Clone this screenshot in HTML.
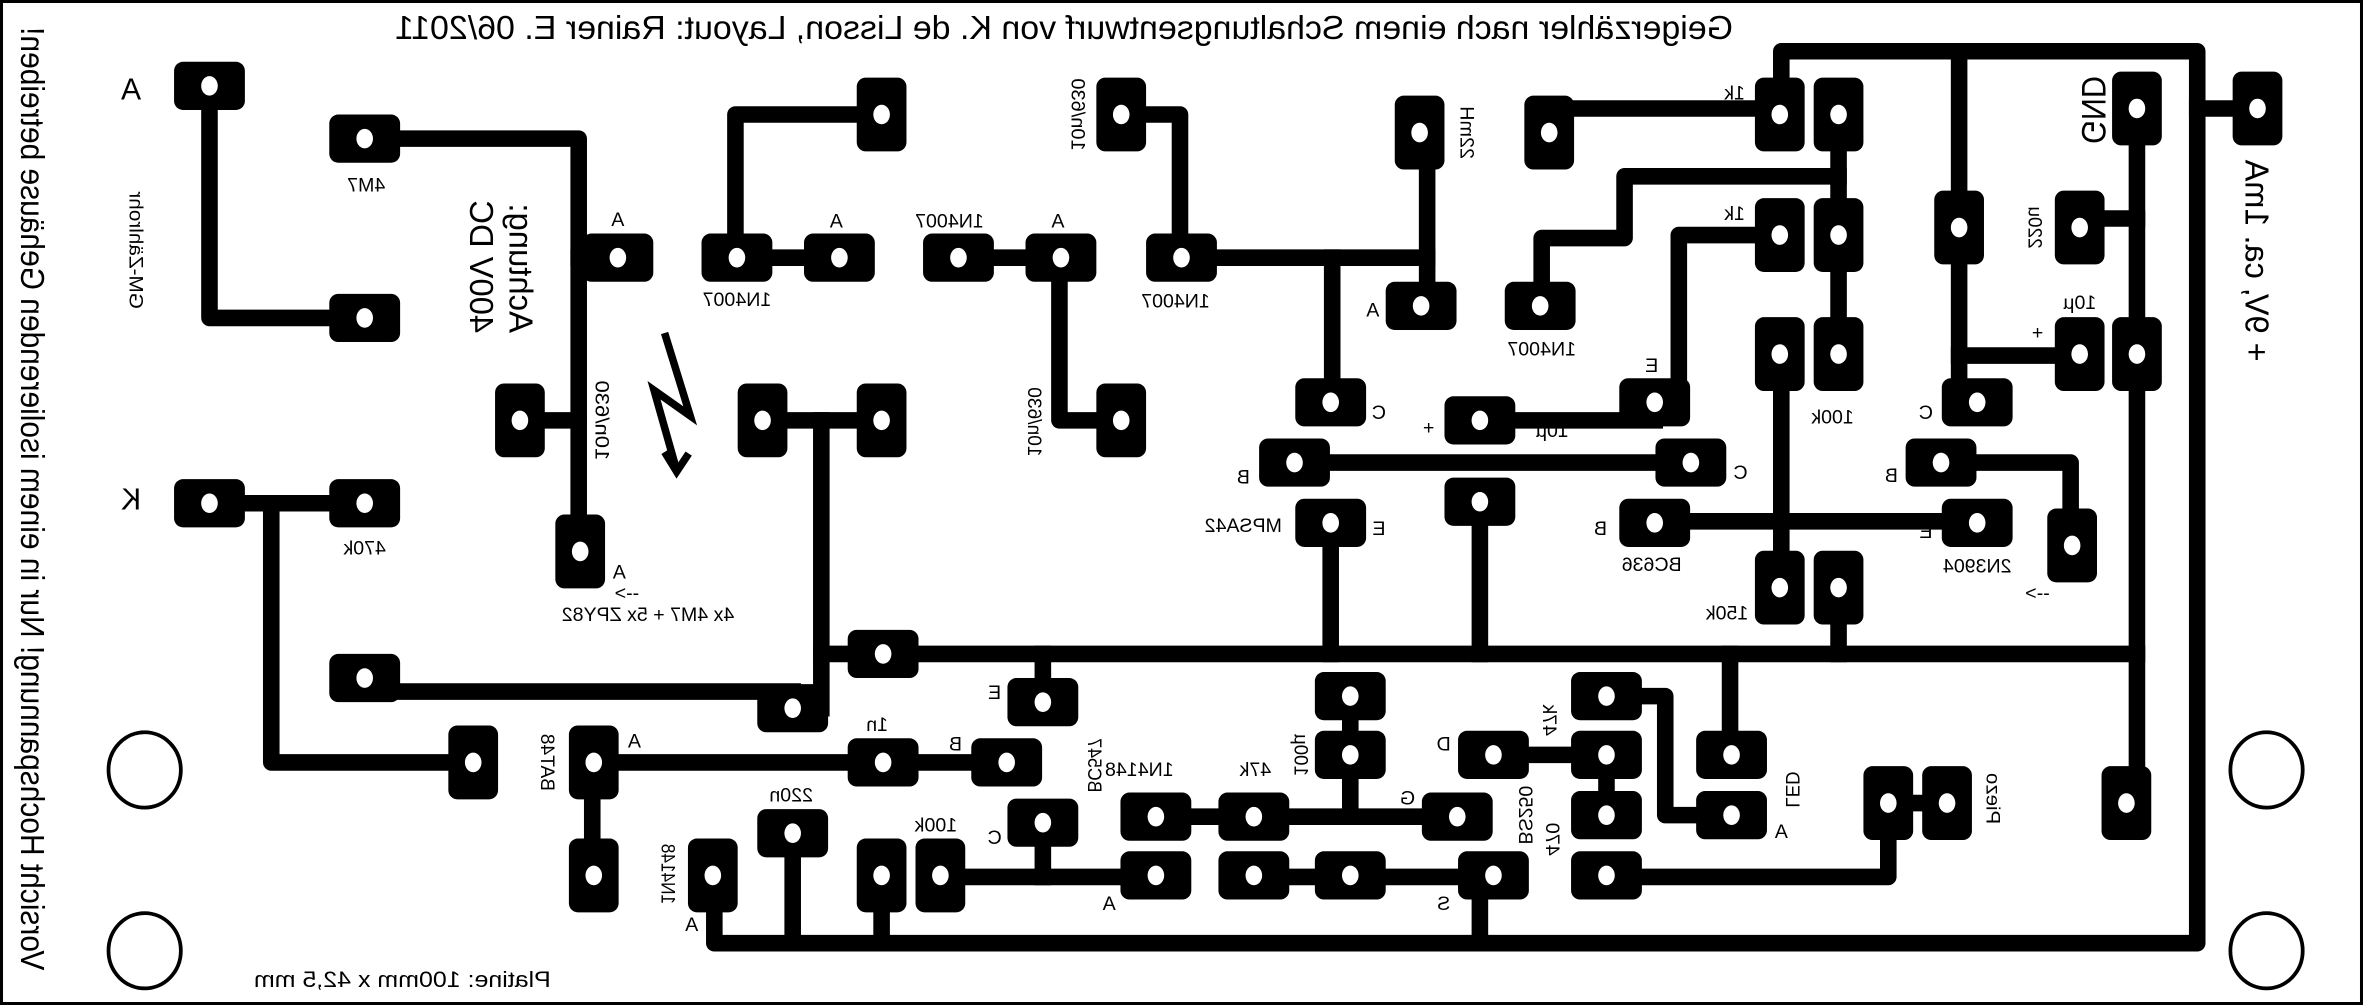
<!DOCTYPE html>
<html><head><meta charset="utf-8"><style>
html,body{margin:0;padding:0;background:#fff;}
svg{display:block;}
text{font-family:"Liberation Sans",sans-serif;fill:#000;text-anchor:middle;}
.s{font-size:13px;}
.r{dominant-baseline:central;}
</style></head><body>
<svg width="2363" height="1005" viewBox="0 0 1568 667" preserveAspectRatio="none" xmlns="http://www.w3.org/2000/svg">
<defs>
<g id="h"><rect x="-23.5" y="-16" width="47" height="32" rx="6" fill="#000"/><ellipse rx="5.5" ry="6.5" fill="#fff"/></g>
<g id="v"><rect x="-16.5" y="-24.5" width="33" height="49" rx="6" fill="#000"/><ellipse rx="5.5" ry="6.5" fill="#fff"/></g>
</defs>
<rect x="1" y="1" width="1566" height="665" fill="#fff" stroke="#000" stroke-width="2"/>

<g fill="none" stroke="#000" stroke-width="11" stroke-linejoin="round" stroke-linecap="square">
<polyline points="139,57 139,211 242,211"/>
<polyline points="242,92 384,92 384,366"/>
<polyline points="384,171 410,171"/>
<polyline points="345,279 384,279"/>
<polyline points="139,334 242,334"/>
<polyline points="180,334 180,506 314,506"/>
<polyline points="488,171 488,76 585,76"/>
<polyline points="489,171 557,171"/>
<polyline points="636,171 704,171"/>
<polyline points="703,171 703,279 744,279"/>
<polyline points="744,76 783,76 783,171 947,171"/>
<polyline points="947,88 947,203"/>
<polyline points="884,171 884,267"/>
<polyline points="859,307 1122,307"/>
<polyline points="982,279 1098,279"/>
<polyline points="1098,267 1114,267 1114,156 1181,156"/>
<polyline points="1028,72 1181,72"/>
<polyline points="1023,203 1023,158 1078,158 1078,117 1220,117"/>
<polyline points="1220,76 1220,235"/>
<polyline points="1182,76 1182,34 1458,34 1458,626 474,626 474,581"/>
<polyline points="1458,72 1498,72"/>
<polyline points="1300,34 1300,267"/>
<polyline points="1300,236 1380,236"/>
<polyline points="1418,72 1418,533"/>
<polyline points="1380,145 1418,145"/>
<polyline points="1182,235 1182,390"/>
<polyline points="1098,346 1312,346"/>
<polyline points="1288,307 1374,307 1374,362"/>
<polyline points="1220,390 1220,434"/>
<polyline points="545,434 1418,434"/>
<polyline points="545,279 545,470"/>
<polyline points="506,279 585,279"/>
<polyline points="883,347 883,434"/>
<polyline points="982,333 982,434"/>
<polyline points="692,434 692,466"/>
<polyline points="1148,434 1148,501"/>
<polyline points="242,459 526,459"/>
<polyline points="394,506 668,506"/>
<polyline points="393,506 393,581"/>
<polyline points="526,553 526,626"/>
<polyline points="585,581 585,626"/>
<polyline points="982,581 982,626"/>
<polyline points="624,582 767,582"/>
<polyline points="692,546 692,582"/>
<polyline points="767,542 967,542"/>
<polyline points="896,462 896,542"/>
<polyline points="832,582 991,582"/>
<polyline points="991,501 1066,501 1066,541"/>
<polyline points="1066,462 1105,462 1105,541 1149,541"/>
<polyline points="1066,582 1253,582 1253,533 1292,533"/>
</g>

<use href="#h" x="139" y="57"/><use href="#h" x="242" y="92"/><use href="#h" x="242" y="211"/>
<use href="#h" x="410" y="171"/><use href="#h" x="139" y="334"/><use href="#h" x="242" y="334"/>
<use href="#h" x="489" y="171"/><use href="#h" x="557" y="171"/><use href="#h" x="636" y="171"/>
<use href="#h" x="704" y="171"/><use href="#h" x="784" y="171"/><use href="#h" x="943" y="203"/>
<use href="#h" x="883" y="267"/><use href="#h" x="859" y="307"/><use href="#h" x="883" y="347"/>
<use href="#h" x="1022" y="203"/><use href="#h" x="1098" y="267"/><use href="#h" x="1122" y="307"/>
<use href="#h" x="1288" y="307"/><use href="#h" x="1312" y="267"/><use href="#h" x="1098" y="347"/>
<use href="#h" x="1312" y="347"/><use href="#h" x="242" y="450"/><use href="#h" x="526" y="470"/>
<use href="#h" x="586" y="434"/><use href="#h" x="692" y="466"/><use href="#h" x="586" y="506"/>
<use href="#h" x="668" y="506"/><use href="#h" x="692" y="546"/><use href="#h" x="767" y="542"/>
<use href="#h" x="832" y="542"/><use href="#h" x="967" y="542"/><use href="#h" x="767" y="581"/>
<use href="#h" x="832" y="581"/><use href="#h" x="896" y="581"/><use href="#h" x="991" y="581"/>
<use href="#h" x="896" y="462"/><use href="#h" x="896" y="501"/><use href="#h" x="991" y="501"/>
<use href="#h" x="1066" y="462"/><use href="#h" x="1066" y="501"/><use href="#h" x="1066" y="541"/>
<use href="#h" x="1066" y="581"/><use href="#h" x="1149" y="501"/><use href="#h" x="1149" y="541"/>
<use href="#h" x="982" y="279"/><use href="#h" x="982" y="333"/><use href="#h" x="526" y="553"/>
<use href="#v" x="345" y="279"/><use href="#v" x="385" y="366"/><use href="#v" x="585" y="76"/>
<use href="#v" x="744" y="76"/><use href="#v" x="744" y="279"/><use href="#v" x="506" y="279"/>
<use href="#v" x="585" y="279"/><use href="#v" x="942" y="88"/><use href="#v" x="1028" y="88"/>
<use href="#v" x="1181" y="76"/><use href="#v" x="1220" y="76"/><use href="#v" x="1181" y="156"/>
<use href="#v" x="1220" y="156"/><use href="#v" x="1181" y="235"/><use href="#v" x="1220" y="235"/>
<use href="#v" x="1300" y="151"/><use href="#v" x="1380" y="151"/><use href="#v" x="1380" y="235"/>
<use href="#v" x="1418" y="72"/><use href="#v" x="1418" y="235"/><use href="#v" x="1498" y="72"/>
<use href="#v" x="1181" y="390"/><use href="#v" x="1220" y="390"/><use href="#v" x="1375" y="362"/>
<use href="#v" x="314" y="506"/><use href="#v" x="394" y="506"/><use href="#v" x="394" y="581"/>
<use href="#v" x="473" y="581"/><use href="#v" x="585" y="581"/><use href="#v" x="624" y="581"/>
<use href="#v" x="1253" y="533"/><use href="#v" x="1292" y="533"/><use href="#v" x="1411" y="533"/>

<g fill="none" stroke="#000" stroke-width="2.5">
<ellipse cx="96" cy="511" rx="24" ry="25"/><ellipse cx="96" cy="631" rx="24" ry="25"/>
<ellipse cx="1504" cy="511" rx="24" ry="25"/><ellipse cx="1504" cy="631" rx="24" ry="25"/>
</g>

<g fill="none" stroke="#000" stroke-width="5" stroke-linejoin="miter">
<polyline points="441,221 458,276 434,259 449,312"/>
<polyline points="441,300 449,313 457,301"/>
</g>

<text transform="translate(706,26) scale(-1,1)" style="font-size:22px" textLength="888" lengthAdjust="spacingAndGlyphs">Geigerzähler nach einem Schaltungsentwurf von K. de Lisson, Layout: Rainer E.  06/2011</text>
<text class="r" transform="translate(21,331) scale(-1,1) rotate(-90)" style="font-size:22px" textLength="626" lengthAdjust="spacingAndGlyphs">Vorsicht Hochspannung! Nur in einem isolierenden Gehäuse betreiben!</text>
<text class="r" transform="translate(1497,173) scale(-1,1) rotate(-90)" style="font-size:22px" textLength="134" lengthAdjust="spacingAndGlyphs">+ 9V, ca. 1mA</text>
<text class="r" transform="translate(1389,73) scale(-1,1) rotate(-90)" style="font-size:23px" textLength="45" lengthAdjust="spacingAndGlyphs">GND</text>
<text class="r" transform="translate(345,178) scale(-1,1) rotate(-90)" style="font-size:22px" textLength="86" lengthAdjust="spacingAndGlyphs">Achtung:</text>
<text class="r" transform="translate(319,177) scale(-1,1) rotate(-90)" style="font-size:22px" textLength="88" lengthAdjust="spacingAndGlyphs">400V DC</text>
<text transform="translate(87,66) scale(-1,1)" style="font-size:20px">A</text>
<text transform="translate(87,338) scale(-1,1)" style="font-size:20px">K</text>
<text transform="translate(267,655) scale(-1,1)" style="font-size:15px" textLength="197" lengthAdjust="spacingAndGlyphs">Platine: 100mm x 42,5 mm</text>

<g class="s">
<text class="r" transform="translate(90,166) scale(-1,1) rotate(-90)" textLength="78" lengthAdjust="spacingAndGlyphs">GM-Zählrohr</text>
<text class="r" transform="translate(399,279) scale(-1,1) rotate(-90)" textLength="53" lengthAdjust="spacingAndGlyphs">10n/630</text>
<text class="r" transform="translate(715,76) scale(-1,1) rotate(-90)" textLength="48" lengthAdjust="spacingAndGlyphs">10n/630</text>
<text class="r" transform="translate(686,280) scale(-1,1) rotate(-90)" textLength="46" lengthAdjust="spacingAndGlyphs">10n/630</text>
<text class="r" transform="translate(973,88) scale(-1,1) rotate(-90)" textLength="35" lengthAdjust="spacingAndGlyphs">22mH</text>
<text class="r" transform="translate(1350,151) scale(-1,1) rotate(-90)" textLength="28" lengthAdjust="spacingAndGlyphs">220u</text>
<text class="r" transform="translate(363,506) scale(-1,1) rotate(-90)" textLength="38" lengthAdjust="spacingAndGlyphs">BAT48</text>
<text class="r" transform="translate(443,580) scale(-1,1) rotate(-90)" textLength="40" lengthAdjust="spacingAndGlyphs">1N4148</text>
<text class="r" transform="translate(726,508) scale(-1,1) rotate(-90)" textLength="36" lengthAdjust="spacingAndGlyphs">BC547</text>
<text class="r" transform="translate(863,501) scale(-1,1) rotate(-90)" textLength="28" lengthAdjust="spacingAndGlyphs">100µ</text>
<text class="r" transform="translate(1012,541) scale(-1,1) rotate(-90)" textLength="39" lengthAdjust="spacingAndGlyphs">BS250</text>
<text class="r" transform="translate(1030,557) scale(-1,1) rotate(-90)" textLength="22" lengthAdjust="spacingAndGlyphs">470</text>
<text class="r" transform="translate(1028,478) scale(-1,1) rotate(-90)" textLength="21" lengthAdjust="spacingAndGlyphs">47k</text>
<text class="r" transform="translate(1189,524) scale(-1,1) rotate(-90)" textLength="24" lengthAdjust="spacingAndGlyphs">LED</text>
<text class="r" transform="translate(1322,530) scale(-1,1) rotate(-90)" textLength="34" lengthAdjust="spacingAndGlyphs">Piezo</text>

<text transform="translate(243,127) scale(-1,1)">4M7</text>
<text transform="translate(410,150) scale(-1,1)">A</text>
<text transform="translate(555,151) scale(-1,1)">A</text>
<text transform="translate(702,151) scale(-1,1)">A</text>
<text transform="translate(630,151) scale(-1,1)">1N4007</text>
<text transform="translate(489,203) scale(-1,1)">1N4007</text>
<text transform="translate(780,204) scale(-1,1)">1N4007</text>
<text transform="translate(1023,236) scale(-1,1)">1N4007</text>
<text transform="translate(911,210) scale(-1,1)">A</text>
<text transform="translate(915,278) scale(-1,1)">C</text>
<text transform="translate(825,321) scale(-1,1)">B</text>
<text transform="translate(948,288) scale(-1,1)">+</text>
<text transform="translate(1030,290) scale(-1,1)">10µ</text>
<text transform="translate(915,355) scale(-1,1)">E</text>
<text transform="translate(825,353) scale(-1,1)">MPSA42</text>
<text transform="translate(1151,66) scale(-1,1)">1k</text>
<text transform="translate(1151,146) scale(-1,1)">1k</text>
<text transform="translate(1096,247) scale(-1,1)">E</text>
<text transform="translate(1155,318) scale(-1,1)">C</text>
<text transform="translate(1216,281) scale(-1,1)">100k</text>
<text transform="translate(1278,278) scale(-1,1)">C</text>
<text transform="translate(1255,320) scale(-1,1)">B</text>
<text transform="translate(1352,225) scale(-1,1)">+</text>
<text transform="translate(1380,205) scale(-1,1)">10µ</text>
<text transform="translate(1062,355) scale(-1,1)">B</text>
<text transform="translate(1096,379) scale(-1,1)">BC636</text>
<text transform="translate(1278,357) scale(-1,1)">E</text>
<text transform="translate(1312,380) scale(-1,1)">2N3904</text>
<text transform="translate(1146,411) scale(-1,1)">150k</text>
<text transform="translate(1352,398) scale(-1,1)">--&gt;</text>
<text transform="translate(242,368) scale(-1,1)">470k</text>
<text transform="translate(411,384) scale(-1,1)">A</text>
<text transform="translate(416,398) scale(-1,1)">--&gt;</text>
<text transform="translate(430,412) scale(-1,1)">4x 4M7 + 5x ZPY82</text>
<text transform="translate(660,464) scale(-1,1)">E</text>
<text transform="translate(582,485) scale(-1,1)">1n</text>
<text transform="translate(634,498) scale(-1,1)">B</text>
<text transform="translate(421,496) scale(-1,1)">A</text>
<text transform="translate(525,532) scale(-1,1)">220n</text>
<text transform="translate(621,552) scale(-1,1)">100k</text>
<text transform="translate(660,560) scale(-1,1)">C</text>
<text transform="translate(736,604) scale(-1,1)">A</text>
<text transform="translate(756,515) scale(-1,1)">1N4148</text>
<text transform="translate(833,515) scale(-1,1)">47k</text>
<text transform="translate(934,534) scale(-1,1)">G</text>
<text transform="translate(958,498) scale(-1,1)">D</text>
<text transform="translate(958,604) scale(-1,1)">S</text>
<text transform="translate(1182,556) scale(-1,1)">A</text>
<text transform="translate(459,618) scale(-1,1)">A</text>
</g>
</svg>
</body></html>
